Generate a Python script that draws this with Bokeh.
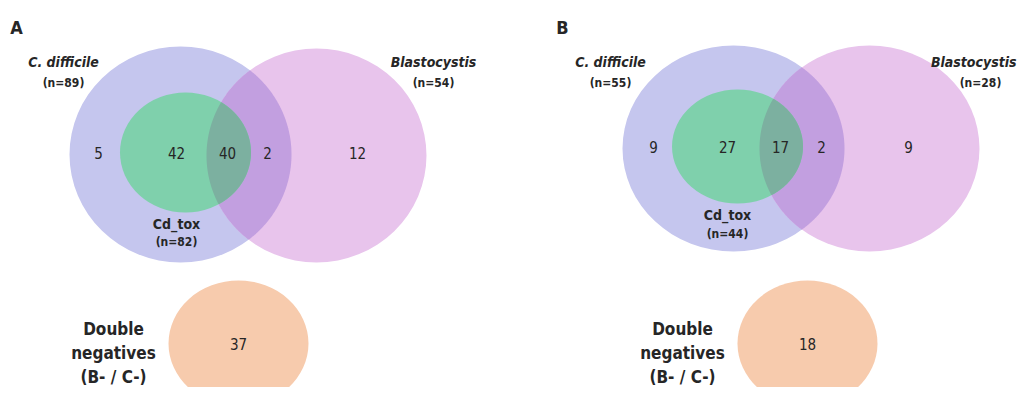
import numpy as np
from bokeh.plotting import figure
from bokeh.models import Range1d
from bokeh.core.properties import value
from bokeh.embed import file_html
from bokeh.resources import INLINE

# ---- data ----
panels = ["A", "B"]
cdiff_n = [89, 55]
blasto_n = [54, 28]
cdtox_n = [82, 44]
only_cdiff = [5, 9]
cdtox_only = [42, 27]
cdtox_blasto = [40, 17]
cdiff_blasto = [2, 2]
only_blasto = [12, 9]
double_neg = [37, 18]

# ---- geometry (picture pixel coords) ----
W, H = 1019, 387
blue_geo = [(180, 154, 111, 108), (733, 148, 111, 103)]
pink_geo = [(316, 155, 110, 107), (869, 148, 110, 103)]
green_geo = [(185, 152, 65.5, 60), (737, 146, 65.5, 57)]
orange_geo = [(238, 343, 70, 63), (807, 343, 70, 63)]

C_BLUE = "#c5c6ee"
C_PINK = "#e8c4ec"
C_BP = "#c29fe0"
C_GREEN = "#7fd0ac"
C_GP = "#7cb0a0"
C_ORANGE = "#f7cbad"
TXT = "#262626"
FONT = "'DejaVu Sans Condensed', 'Liberation Sans', sans-serif"

p = figure(width=W, height=H, output_backend="svg", toolbar_location=None,
           x_range=Range1d(0, W), y_range=Range1d(H, 0),
           min_border=0)
p.axis.visible = False
p.grid.visible = False
p.outline_line_color = None
p.background_fill_color = "white"


def boundary(e, n=720):
    cx, cy, rx, ry = e
    t = np.linspace(0, 2 * np.pi, n, endpoint=False)
    return cx + rx * np.cos(t), cy + ry * np.sin(t)


def inside(x, y, e):
    cx, cy, rx, ry = e
    return ((x - cx) / rx) ** 2 + ((y - cy) / ry) ** 2 <= 1.0


def intersect(e1, e2):
    x1, y1 = boundary(e1)
    x2, y2 = boundary(e2)
    m1 = inside(x1, y1, e2)
    m2 = inside(x2, y2, e1)
    xs = np.concatenate([x1[m1], x2[m2]])
    ys = np.concatenate([y1[m1], y2[m2]])
    mx, my = xs.mean(), ys.mean()
    order = np.argsort(np.arctan2(ys - my, xs - mx))
    return list(xs[order]), list(ys[order])


def ell(e, color):
    cx, cy, rx, ry = e
    p.ellipse(x=[cx], y=[cy], width=[2 * rx], height=[2 * ry],
              fill_color=color, line_color=None)


def txt(x, y, s, size, style="normal", align="center"):
    p.text(x=[x], y=[y], text=[s], text_font=value(FONT),
           text_font_size=f"{size}px", text_font_style=style,
           text_color=TXT, text_align=align, text_baseline="middle")


for i in range(2):
    b, pk, g, o = blue_geo[i], pink_geo[i], green_geo[i], orange_geo[i]
    ell(b, C_BLUE)
    ell(pk, C_PINK)
    xs, ys = intersect(b, pk)
    p.patch(xs, ys, fill_color=C_BP, line_color=None)
    ell(g, C_GREEN)
    xs, ys = intersect(g, pk)
    p.patch(xs, ys, fill_color=C_GP, line_color=None)
    ell(o, C_ORANGE)

# Panel labels
txt(16, 27, panels[0], 18, "bold")
txt(562, 27, panels[1], 18, "bold")

# region counts
num_x = [[98, 176, 227, 267, 357], [653, 727, 780, 821, 908]]
num_y = [152, 146]
for i in range(2):
    vals = [only_cdiff[i], cdtox_only[i], cdtox_blasto[i], cdiff_blasto[i], only_blasto[i]]
    for xv, v in zip(num_x[i], vals):
        txt(xv, num_y[i], str(v), 15)

# set labels
lab = [dict(cd=(63, 61), bl=(433, 61), bl_n=433, bl_align="center", tox=(176, 223), tox_n=241),
       dict(cd=(610, 61), bl=(1016, 61), bl_n=980, bl_align="right", tox=(727, 214), tox_n=233)]
for i in range(2):
    L = lab[i]
    txt(L["cd"][0], L["cd"][1], "C. difficile", 14, "bold italic")
    txt(L["cd"][0], L["cd"][1] + 21, f"(n={cdiff_n[i]})", 12, "bold")
    txt(L["bl"][0], L["bl"][1], "Blastocystis", 14, "bold italic", L["bl_align"])
    txt(L["bl_n"], L["bl"][1] + 21, f"(n={blasto_n[i]})", 12, "bold")
    txt(L["tox"][0], L["tox"][1], "Cd_tox", 14, "bold")
    txt(L["tox"][0], L["tox_n"], f"(n={cdtox_n[i]})", 12, "bold")

# double negatives
dn_x = [113, 682]
for i in range(2):
    o = orange_geo[i]
    txt(o[0], o[1], str(double_neg[i]), 15)
    txt(dn_x[i], 328, "Double", 17, "bold")
    txt(dn_x[i], 352, "negatives", 17, "bold")
    txt(dn_x[i], 376, "(B- / C-)", 17, "bold")

open("out.html", "w").write(file_html(p, INLINE))
